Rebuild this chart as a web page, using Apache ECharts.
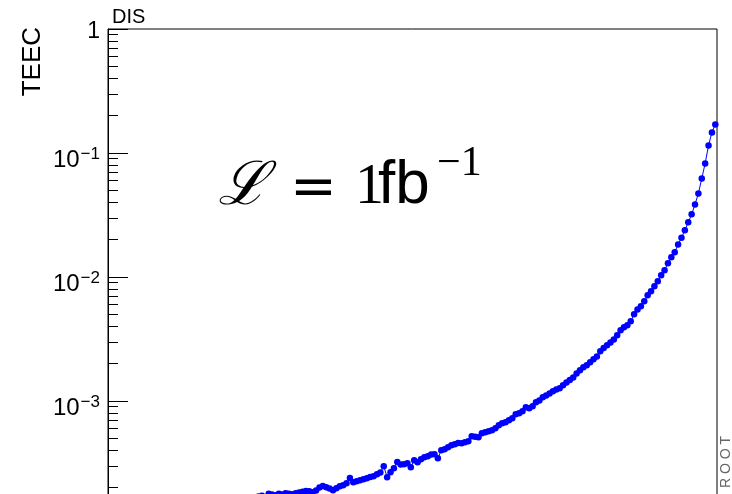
<!DOCTYPE html>
<html>
<head>
<meta charset="utf-8">
<script src="https://cdn.jsdelivr.net/npm/echarts@6/dist/echarts.min.js"></script>
<style>
  html, body { margin: 0; padding: 0; background: #fff; }
  #chart { width: 732px; height: 494px; }
</style>
</head>
<body>
<div id="chart"></div>
<script>
// Number of bins along x and the index of the first filled bin
const binCount = 180;
const firstBin = 44;

// TEEC per bin, starting at bin `firstBin`
const teec = [
  0.000170, 0.000172, 0.000168,
  0.000179, 0.000176, 0.000174, 0.000179, 0.000176, 0.000180, 0.000179, 0.000177, 0.000180, 0.000183,
  0.000185, 0.000188, 0.000187, 0.000184, 0.000190, 0.000201, 0.000206, 0.000202, 0.000197, 0.000191,
  0.000198, 0.000205, 0.000209, 0.000217, 0.000239, 0.000221, 0.000225, 0.000230, 0.000234, 0.000238,
  0.000244, 0.000247, 0.000257, 0.000265, 0.000298, 0.000243, 0.000266, 0.000287, 0.000322, 0.000307,
  0.000309, 0.000315, 0.000292, 0.000333, 0.000321, 0.000339, 0.000352, 0.000358, 0.000370, 0.000372,
  0.000345, 0.000400, 0.000408, 0.000423, 0.000440, 0.000448, 0.000458, 0.000456, 0.000465, 0.000473,
  0.000520, 0.000515, 0.000510, 0.000549, 0.000559, 0.000570, 0.000580, 0.000603, 0.000637, 0.000661,
  0.000674, 0.000699, 0.000725, 0.000781, 0.000796, 0.000826, 0.000890, 0.000873, 0.000906, 0.000976,
  0.00101, 0.00107, 0.00111, 0.00115, 0.00120, 0.00124, 0.00127, 0.00134, 0.00141, 0.00148,
  0.00155, 0.00167, 0.00177, 0.00187, 0.00194, 0.00205, 0.00217, 0.00229, 0.00252, 0.00268,
  0.00281, 0.00297, 0.00314, 0.00339, 0.00372, 0.00393, 0.00408, 0.00439, 0.00500, 0.00548,
  0.00580, 0.00636, 0.00711, 0.00766, 0.00841, 0.00922, 0.01031, 0.01131, 0.0129, 0.0144,
  0.0158, 0.0183, 0.0207, 0.0238, 0.0276, 0.0320, 0.0385, 0.0472, 0.0624, 0.0824,
  0.1151, 0.1465, 0.170
];

// The 2..9 minor ticks of each decade on the y axis
const yMinorTicks = [];
[1e-4, 1e-3, 1e-2, 1e-1].forEach(d => {
  [2, 3, 4, 5, 6, 7, 8, 9].forEach(m => yMinorTicks.push(+(d * m).toPrecision(3)));
});

const points = teec.map((v, k) => [firstBin + k + 0.5, v]);

const chart = echarts.init(document.getElementById('chart'), null, { renderer: 'canvas' });

const sansFont = '"Liberation Sans", Arial, Helvetica, sans-serif';
const serifFont = '"Liberation Serif", "Times New Roman", serif';

chart.setOption({
  animation: false,
  backgroundColor: '#ffffff',
  grid: {
    left: 108, right: 15, top: 29, height: 496,
    outerBoundsMode: 'none',
    containLabel: false,
    show: true, borderColor: '#000', borderWidth: 1, backgroundColor: 'transparent'
  },
  xAxis: {
    type: 'value', min: 0, max: binCount,
    axisLine: { show: false }, axisTick: { show: false },
    axisLabel: { show: false }, splitLine: { show: false }
  },
  yAxis: [
    {
      type: 'log', logBase: 10, min: 1e-4, max: 1,
      axisLine: { show: true, lineStyle: { color: '#000', width: 1 } },
      axisTick: { show: true, inside: true, length: 20, lineStyle: { color: '#000', width: 1 } },
      splitLine: { show: false },
      minorTick: { show: false },
      axisLabel: {
        show: true,
        margin: 8,
        padding: [12, 0, 0, 0],
        formatter: function (v) {
          const e = Math.round(Math.log10(v));
          if (e === 0) return '{one|1}';
          return '{b|10}{s|\u2212' + (-e) + '}';
        },
        rich: {
          one: { fontFamily: sansFont, fontSize: 23, color: '#000', padding: [0, 0, 7, 0] },
          b: { fontFamily: sansFont, fontSize: 24, color: '#000', verticalAlign: 'bottom' },
          s: { fontFamily: sansFont, fontSize: 17, color: '#000', verticalAlign: 'top', padding: [0, 0, 10, 1] }
        }
      }
    },
    {
      type: 'log', logBase: 10, min: 1e-4, max: 1,
      position: 'left',
      axisLine: { show: false },
      axisLabel: { show: false },
      splitLine: { show: false },
      axisTick: {
        show: true, inside: true, length: 10,
        customValues: yMinorTicks,
        lineStyle: { color: '#000', width: 1 }
      }
    }
  ],
  series: [{
    type: 'line',
    data: points,
    yAxisIndex: 0,
    symbol: 'circle',
    symbolSize: 6.5,
    showSymbol: true,
    itemStyle: { color: '#0000ff' },
    lineStyle: { color: '#0000ff', width: 1 },
    clip: true
  }],
  graphic: [
    {
      type: 'text', x: 33, y: 27, rotation: Math.PI / 2,
      style: { text: 'TEEC', font: '26px ' + sansFont, fill: '#000', align: 'right', verticalAlign: 'middle' }
    },
    {
      type: 'text', x: 112, y: 17,
      style: { text: 'DIS', font: '20px ' + sansFont, fill: '#000', align: 'left', verticalAlign: 'middle' }
    },
    {
      type: 'text', x: 218, y: 188,
      style: { text: '\u2112', font: 'italic 60px "DejaVu Serif", ' + serifFont, fill: '#000', align: 'left', verticalAlign: 'middle' }
    },
    {
      type: 'text', x: 290, y: 190,
      style: { text: '=', font: '56px "DejaVu Sans", ' + sansFont, fill: '#000', align: 'left', verticalAlign: 'middle' }
    },
    {
      type: 'text', x: 355, y: 188,
      style: { text: '1', font: '58px ' + serifFont, fill: '#000', align: 'left', verticalAlign: 'middle' }
    },
    {
      type: 'text', x: 378, y: 186,
      style: { text: 'fb', font: '62px ' + sansFont, fill: '#000', align: 'left', verticalAlign: 'middle' }
    },
    {
      type: 'text', x: 437, y: 164,
      style: { text: '\u22121', font: '42px ' + serifFont, fill: '#000', align: 'left', verticalAlign: 'middle' }
    },
    {
      type: 'text', x: 726, y: 488, rotation: Math.PI / 2,
      style: { text: 'R O O T', font: '14px ' + sansFont, fill: '#666', align: 'left', verticalAlign: 'middle' }
    }
  ]
});
</script>
</body>
</html>
